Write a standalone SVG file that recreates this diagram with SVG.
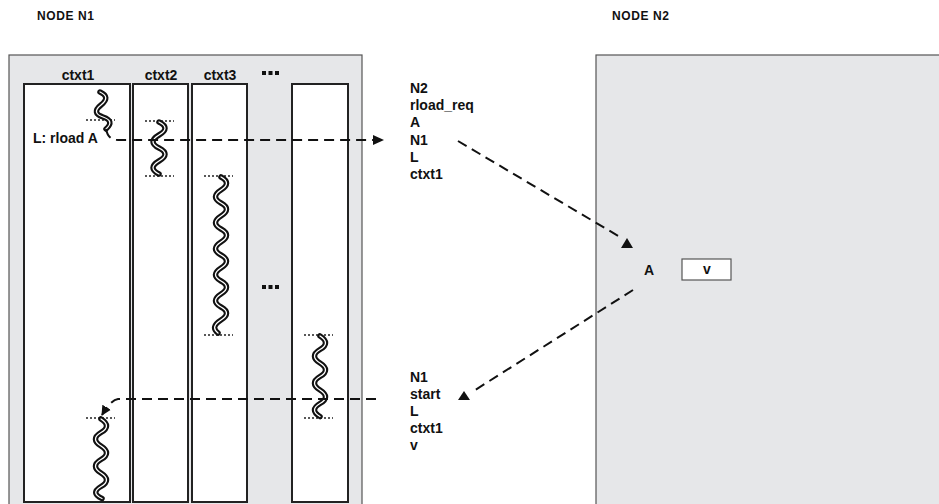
<svg xmlns="http://www.w3.org/2000/svg" width="939" height="504" viewBox="0 0 939 504">
<style>
text{font-family:"Liberation Sans",Arial,sans-serif;font-weight:bold;font-size:14px;fill:#111}
.node{fill:#e6e7e9;stroke:#555;stroke-width:1.2}
.col{fill:#fff;stroke:#222;stroke-width:2}
.dot{stroke:#222;stroke-width:1.5;stroke-dasharray:2 2;fill:none}
.wo{fill:none;stroke:#111;stroke-width:5.5;stroke-linecap:round}
.wi{fill:none;stroke:#fff;stroke-width:1.3;stroke-linecap:round}
.dash{fill:none;stroke:#111;stroke-width:2;stroke-dasharray:10 6}
.head{fill:#111}
.hdr{font-size:12px}
</style>
<defs>
<marker id="ah" viewBox="0 0 10 10" refX="9" refY="5" markerWidth="10" markerHeight="10" markerUnits="userSpaceOnUse" orient="auto">
<path d="M0,0 L10,5 L0,10 Z" fill="#111"/>
</marker>
<path id="w1" d="M100,92 q11,5 1,13 t2,12 t3,12"/>
<path id="w2" d="M159,122 q12,6 0,13 t0,13 t0,13 t0,13"/>
<path id="w3" d="M221,177 q11,6 0,13 t0,13 t0,13 t0,13 t0,13 t0,13 t0,13 t0,13 t0,13 t0,13 t0,13 t-3,13"/>
<path id="w4" d="M320,336 q11,7 0,13.5 t0,13.5 t0,13.5 t0,13.5 t0,13.5 t0,13"/>
<path id="w5" d="M101,419 q11,7 0,13.5 t0,13.5 t0,13.5 t0,13.5 t0,13.5 t1,12"/>
</defs>

<text class="hdr" x="37" y="20" textLength="57">NODE N1</text>
<text class="hdr" x="612" y="20" textLength="57">NODE N2</text>

<g id="nodeN1">
<rect class="node" x="9" y="55" width="353" height="460"/>
<rect class="col" x="24" y="84" width="106" height="418"/>
<rect class="col" x="133" y="84" width="55" height="418"/>
<rect class="col" x="192" y="84" width="55" height="418"/>
<rect class="col" x="292" y="84" width="56" height="418"/>
<text x="78" y="80" text-anchor="middle">ctxt1</text>
<text x="161" y="80" text-anchor="middle">ctxt2</text>
<text x="220" y="80" text-anchor="middle">ctxt3</text>
<g class="head">
<rect x="262" y="71" width="4" height="4"/><rect x="268.5" y="71" width="4" height="4"/><rect x="275" y="71" width="4" height="4"/>
<rect x="262" y="285" width="4" height="4"/><rect x="268.5" y="285" width="4" height="4"/><rect x="275" y="285" width="4" height="4"/>
</g>
<text x="33" y="143">L: rload A</text>
<line class="dot" x1="86" y1="120" x2="115" y2="120"/>
<line class="dot" x1="145" y1="121" x2="174" y2="121"/>
<line class="dot" x1="145" y1="176" x2="174" y2="176"/>
<line class="dot" x1="204" y1="176" x2="233" y2="176"/>
<line class="dot" x1="204" y1="335" x2="233" y2="335"/>
<line class="dot" x1="304" y1="335" x2="333" y2="335"/>
<line class="dot" x1="304" y1="418" x2="333" y2="418"/>
<line class="dot" x1="86" y1="418" x2="115" y2="418"/>
<g id="waves">
<use href="#w1" class="wo"/><use href="#w1" class="wi"/>
<use href="#w2" class="wo"/><use href="#w2" class="wi"/>
<use href="#w3" class="wo"/><use href="#w3" class="wi"/>
<use href="#w4" class="wo"/><use href="#w4" class="wi"/>
<use href="#w5" class="wo"/><use href="#w5" class="wi"/>
</g>
</g>

<g id="nodeN2">
<rect class="node" x="596" y="55" width="360" height="460"/>
<text x="649" y="275" text-anchor="middle">A</text>
<rect x="682" y="259" width="49" height="21" fill="#fff" stroke="#555" stroke-width="1.2"/>
<text x="707" y="274" text-anchor="middle">v</text>
</g>

<g id="msg1">
<text x="410" y="93">N2</text>
<text x="410" y="110">rload_req</text>
<text x="410" y="127">A</text>
<text x="410" y="145">N1</text>
<text x="410" y="162">L</text>
<text x="410" y="179">ctxt1</text>
</g>
<g id="msg2">
<text x="410" y="382">N1</text>
<text x="410" y="399">start</text>
<text x="410" y="416">L</text>
<text x="410" y="433">ctxt1</text>
<text x="410" y="450">v</text>
</g>

<g id="connectors">
<path class="dash" d="M106,129 Q108,140 118,140 L373,140"/>
<polygon class="head" points="373,135 384,140 373,145"/>
<path class="dash" d="M458,141 L620,237"/>
<polygon class="head" points="627,238 633,248 621,248"/>
<path class="dash" d="M633,290 L472,392"/>
<polygon class="head" points="464,391 470,400 458,400"/>
<path class="dash" d="M376,399 L118,399 Q111,400 102,415" marker-end="url(#ah)"/>
</g>
</svg>
